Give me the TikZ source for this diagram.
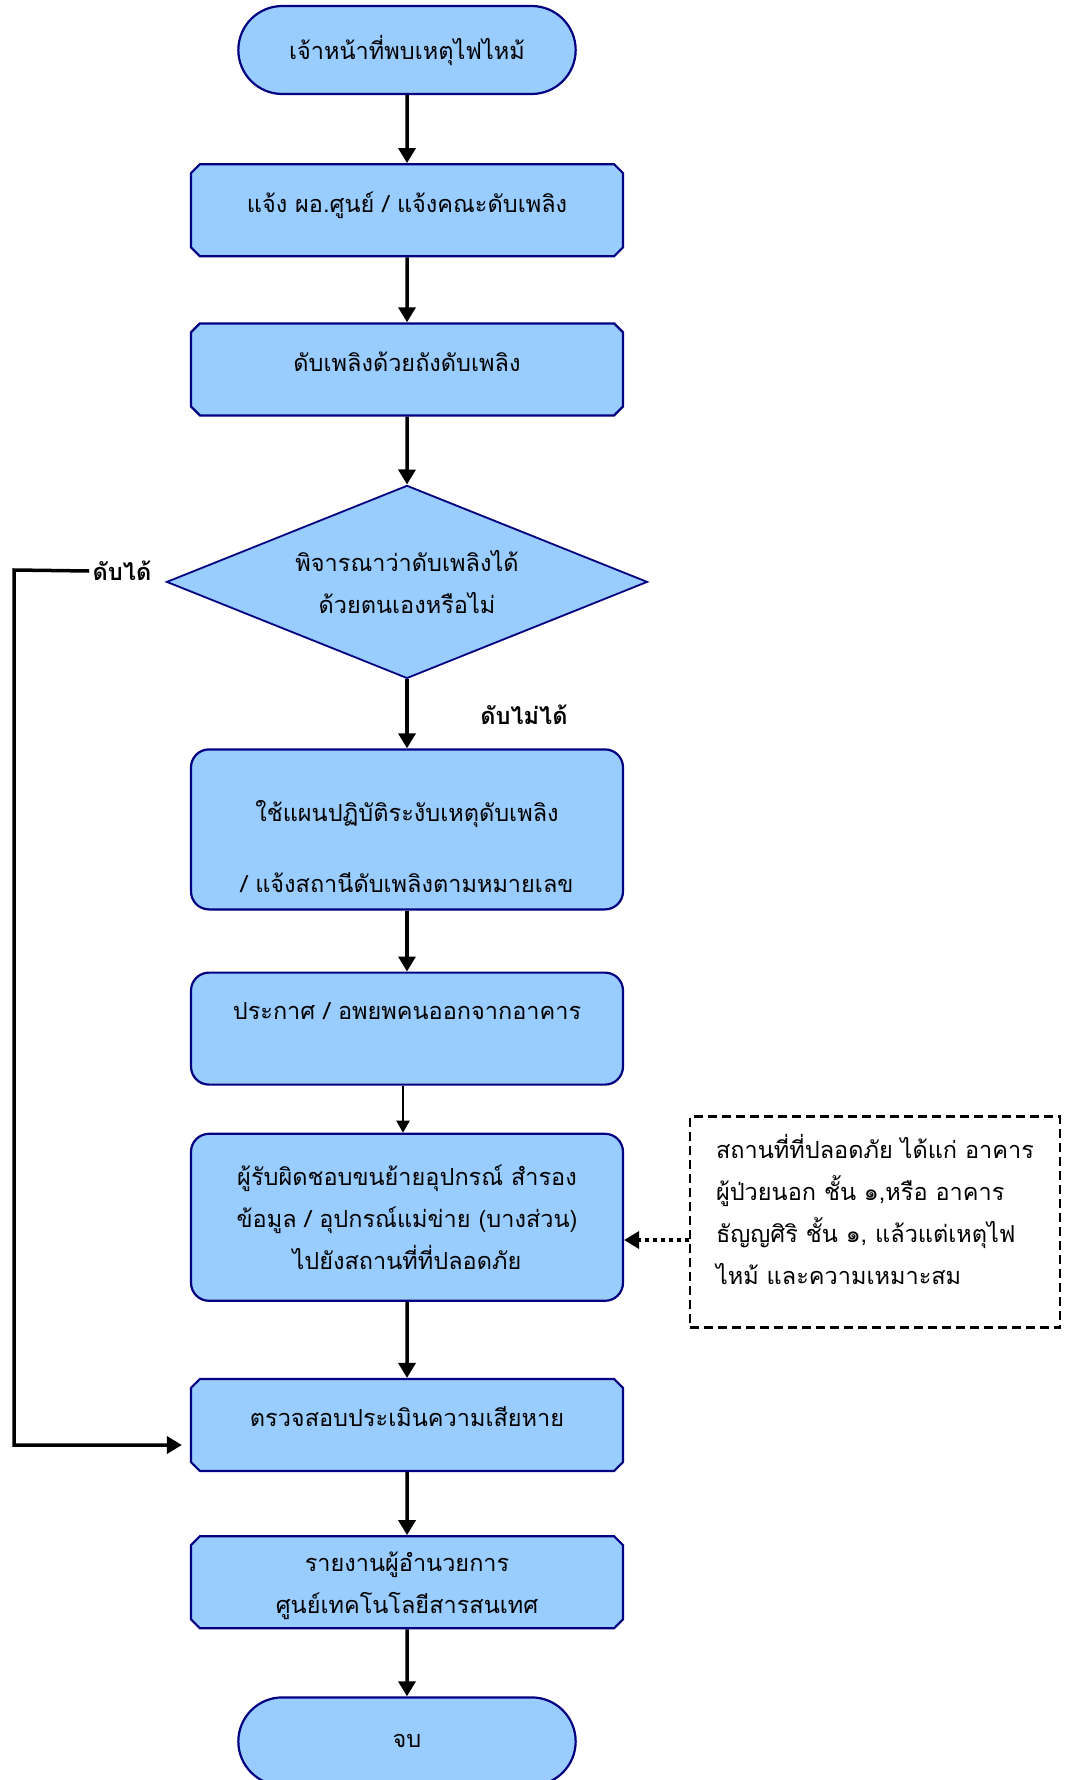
\documentclass[tikz,border=0pt]{standalone}
\usepackage{fontspec}
\newfontfamily\thaifont[Script=Thai]{Loma}
\usetikzlibrary{shapes.misc,shapes.geometric,positioning,arrows.meta}
\definecolor{boxfill}{HTML}{99CCFF}
\definecolor{boxline}{HTML}{000080}

\begin{document}
\begin{tikzpicture}[x=1pt, y=1pt, font=\thaifont\fontsize{23.5}{42}\selectfont,
  term/.style={rounded rectangle, draw=boxline, line width=2.2pt, fill=boxfill, minimum width=344pt, minimum height=88pt},
  proc/.style={chamfered rectangle, chamfered rectangle xsep=6pt, draw=boxline, line width=2.2pt, fill=boxfill, minimum width=432pt, minimum height=92pt, text depth=16pt, align=center},
  roundproc/.style={rectangle, rounded corners=18pt, draw=boxline, line width=2.2pt, fill=boxfill, minimum width=432pt, align=center},
  decision/.style={diamond, aspect=2.5, draw=boxline, line width=1.8pt, fill=boxfill, minimum width=481pt, minimum height=193pt, inner sep=0pt, align=center},
  note/.style={rectangle, draw, line width=2.8pt, dash pattern=on 9pt off 5pt, minimum width=370pt, minimum height=211pt, text depth=25pt, align=left},
  flow/.style={->, line width=3.5pt},
  >={Triangle[length=15pt,width=17pt]}]
  \useasboundingbox (0,0) rectangle (1069,-1780);

  \node[term] (found) at (407,-50) {เจ้าหน้าที่พบเหตุไฟไหม้};
  \node[proc, below=68pt of found] (notify) {แจ้ง ผอ.ศูนย์ / แจ้งคณะดับเพลิง};
  \node[proc, below=65pt of notify] (extinguish) {ดับเพลิงด้วยถังดับเพลิง};
  \node[decision, below=68pt of extinguish] (decide) {พิจารณาว่าดับเพลิงได้\\ด้วยตนเองหรือไม่};
  \node[roundproc, minimum height=160pt, text height=126pt, below=69pt of decide] (plan) {ใช้แผนปฏิบัติระงับเหตุดับเพลิง\\[29pt]/ แจ้งสถานีดับเพลิงตามหมายเลข};
  \node[roundproc, minimum height=112pt, text depth=36pt, below=61pt of plan] (evacuate) {ประกาศ / อพยพคนออกจากอาคาร};
  \node[roundproc, minimum height=167pt, below=47pt of evacuate] (move) {ผู้รับผิดชอบขนย้ายอุปกรณ์ สำรอง\\ข้อมูล / อุปกรณ์แม่ข่าย (บางส่วน)\\ไปยังสถานที่ที่ปลอดภัย};
  \node[proc, below=76pt of move] (assess) {ตรวจสอบประเมินความเสียหาย};
  \node[proc, text depth=0pt, below=63pt of assess] (report) {รายงานผู้อำนวยการ\\ศูนย์เทคโนโลยีสารสนเทศ};
  \node[term, below=67pt of report] (finish) {จบ};

  \node[note] (safe) at (875,-1222) {สถานที่ที่ปลอดภัย ได้แก่ อาคาร\\ผู้ป่วยนอก ชั้น ๑,หรือ อาคาร\\ธัญญศิริ ชั้น ๑, แล้วแต่เหตุไฟ\\ไหม้ และความเหมาะสม};

  \node[font=\thaifont\bfseries\fontsize{23.5}{30}\selectfont] (canlbl) at (122,-571) {ดับได้};
  \node[font=\thaifont\bfseries\fontsize{23.5}{30}\selectfont] (cannotlbl) at (524,-715) {ดับไม่ได้};
  \coordinate (loop) at (14,-570);
  \coordinate (dotstart) at ([yshift=-18pt]safe.west);

  % main flow
  \draw[flow] (found) -- (notify);
  \draw[flow] (notify) -- (extinguish);
  \draw[flow] (extinguish) -- (decide);
  \draw[flow] (decide) -- (plan);
  \draw[flow] (plan) -- (evacuate);
  \draw[->, line width=2.2pt, >={Triangle[length=12pt,width=13pt]}] ([xshift=-4pt]evacuate.south) -- ([xshift=-4pt]move.north);
  \draw[flow] (move) -- (assess);
  \draw[flow] (assess) -- (report);
  \draw[flow] (report) -- (finish);

  % loop back and note
  \draw[flow, shorten >=8pt] (canlbl.west) -- (loop) |- ([yshift=-20pt]assess.west);
  \draw[flow, dash pattern=on 4pt off 4pt] (dotstart) -- (dotstart -| move.east);
\end{tikzpicture}
\end{document}
